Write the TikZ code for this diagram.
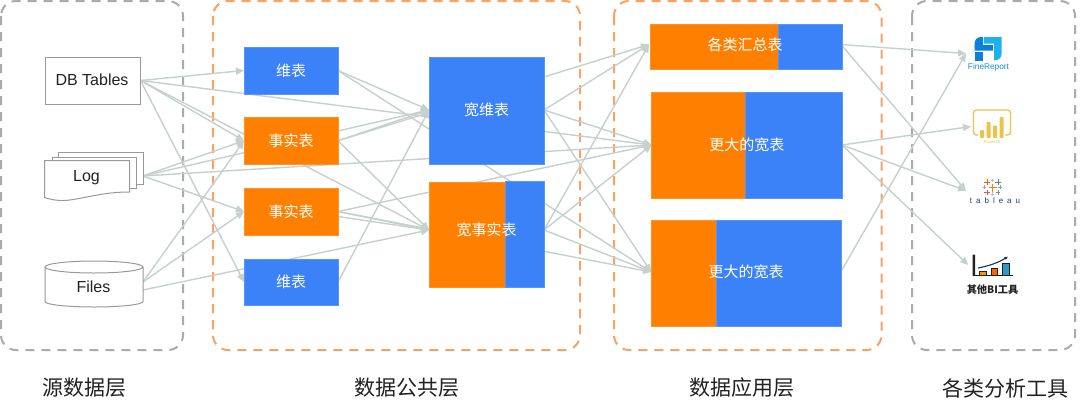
\documentclass[tikz,border=0pt]{standalone}
\usepackage{fontspec}
\setmainfont{Liberation Sans}
\newfontfamily\cjk{Noto Sans CJK SC}
\newfontfamily\tabfont[LetterSpace=50]{Liberation Sans}
\usetikzlibrary{arrows.meta,backgrounds}
\definecolor{bluefill}{HTML}{3B82F8}
\definecolor{orangefill}{HTML}{FF8000}
\definecolor{linkgrey}{HTML}{C6D0CC}
\definecolor{groupgrey}{HTML}{ABABAB}
\definecolor{grouporange}{HTML}{F9A261}
\definecolor{srcgrey}{HTML}{999999}
\definecolor{ink}{HTML}{222222}
\definecolor{frdark}{HTML}{0B80DA}
\definecolor{frlight}{HTML}{1FB1EC}
\definecolor{pbiyellow}{HTML}{E9C449}
\definecolor{tabblue}{HTML}{1F3F77}
\tikzset{
  link/.style={draw=linkgrey,line width=1.4pt},
  linkto/.style={link,-{Triangle[length=8pt,width=7pt,fill=linkgrey]}},
  grouprect/.style={line width=2pt,dash pattern=on 9pt off 7pt,rounded corners=15pt},
  bx/.style={inner sep=0pt,outer sep=0pt,draw=#1!85!white,line width=.4pt,fill=#1},
  tbl/.style={bx=#1,minimum width=94pt,minimum height=46.5pt,text=white,font=\cjk\fontsize{15}{15}\selectfont},
  boxlabel/.style={inner sep=0pt,outer sep=0pt,text=white,font=\cjk\fontsize{15}{15}\selectfont},
  source/.style={draw=srcgrey,line width=1pt,fill=white},
  srctext/.style={inner sep=0pt,text=ink,font=\fontsize{16}{16}\selectfont},
  layer/.style={inner sep=0pt,text=ink,font=\cjk\fontsize{21}{21}\selectfont},
}
\begin{document}
\begin{tikzpicture}[x=1pt,y=-1pt]
\useasboundingbox (0,0) rectangle (1080,408);

% source shapes
\node[source,inner sep=0pt,minimum width=95pt,minimum height=47pt] (dbt) at (92.5,80.5) {};
\node[srctext] (dbtl) at (92,79.5) {DB Tables};
\node[source,inner sep=0pt,minimum width=85pt,minimum height=32pt] (logb) at (100.5,168) {};
\node[source,inner sep=0pt,minimum width=84pt,minimum height=31pt] (logm) at (94,172.5) {};
\filldraw[source] (44.5,160.5) -- (129.5,160.5) -- (129.5,192)
  .. controls (105,192) and (90,197) .. (70,200) .. controls (60,201.5) and (50,199.5) .. (44.5,197.5) -- cycle;
\node[srctext] (logl) at (86.5,178) {Log};
\coordinate (logport) at (143,176);
\filldraw[source] (45,267) arc[start angle=180,end angle=360,x radius=49,y radius=6]
  -- (143,301.5) arc[start angle=0,end angle=180,x radius=49,y radius=5.5] -- cycle;
\draw[source,fill=none] (45,267) arc[start angle=180,end angle=0,x radius=49,y radius=6];
\node[srctext] (filesl) at (93.5,287) {Files};
\coordinate (files1) at (143,282);
\coordinate (files2) at (143,290);

% tables
\node[tbl=bluefill] (dim1) at (291,70.5) {维表};
\node[tbl=orangefill] (fact1) at (291,140.75) {事实表};
\node[tbl=orangefill] (fact2) at (291,211.5) {事实表};
\node[tbl=bluefill] (dim2) at (291,282) {维表};
\coordinate (fact2low) at (338,216.5);

\node[bx=bluefill,minimum width=115pt,minimum height=107pt] (wdimb) at (486.5,110.5) {};
\node[boxlabel,minimum width=115pt] (wdim) at (486.5,110) {宽维表};

\node[bx=orangefill,minimum width=76pt,minimum height=105pt] (wfo) at (467,234.5) {};
\node[bx=bluefill,minimum width=39pt,minimum height=106pt] (wfb) at (524.5,234) {};
\node[boxlabel,minimum width=115pt] (wfact) at (486.5,230) {宽事实表};

\node[bx=orangefill,minimum width=128pt,minimum height=45pt] (sumo) at (714,46.5) {};
\node[bx=bluefill,minimum width=64pt,minimum height=45pt] (sumb) at (810,46.5) {};
\node[boxlabel,minimum width=192pt] (sum) at (745,44.5) {各类汇总表};

\node[bx=orangefill,minimum width=93.5pt,minimum height=106pt] (b1o) at (698.25,145) {};
\node[bx=bluefill,minimum width=97pt,minimum height=106pt] (b1b) at (793.5,145) {};
\node[boxlabel,minimum width=190.5pt] (big1) at (746.75,145) {更大的宽表};

\node[bx=orangefill,minimum width=64.5pt,minimum height=106pt] (b3o) at (683.75,273) {};
\node[bx=bluefill,minimum width=125pt,minimum height=106pt] (b3b) at (778.5,273) {};
\node[boxlabel,minimum width=189.5pt] (big3) at (746,272) {更大的宽表};

% FineReport icon
\fill[frdark] (974.5,50.5) -- (974.5,44) .. controls (974.5,40) and (977,37) .. (981,37) -- (983.2,37) -- (983.2,45) -- (993,45) -- (993,50.5) -- cycle;
\fill[frdark] (974.5,51.8) -- (983.2,51.8) -- (983.2,60.5) -- (974.5,60.5) -- cycle;
\fill[frlight] (984.2,37) -- (1001.7,37) -- (1001.7,53) .. controls (1001.7,57.5) and (999,60.5) .. (994,60.5) -- (994,43.7) -- (984.2,43.7) -- cycle;
\node[inner sep=0pt,text=frdark!70!frlight,font=\fontsize{8.3}{8.3}\selectfont] (frtext) at (988.5,67) {FineReport};
\coordinate (frep) at (966,53.5);

% Power BI icon
\draw[pbiyellow,line width=1.3pt,rounded corners=3pt] (978,135) -- (973.5,135) -- (973.5,110) -- (1010.5,110) -- (1010.5,135) -- (1005,135);
\foreach \bx/\by in {980/130,986.7/122,993/125.5,999.7/117}
  \fill[pbiyellow,rounded corners=1pt] (\bx,\by) rectangle (\bx+4,138);
\node[inner sep=0pt,text=pbiyellow,font=\fontsize{4}{4}\selectfont] (pbitext) at (992,142) {Power BI};
\coordinate (pbi) at (971,126.5);

% Tableau icon
\foreach \cx/\cy/\cs/\cc in {992.5/187.5/4/orange,987/182/2.6/orange!70!red,998/182/2.6/tabblue!70,1000/187/1.8/teal!60,984.5/187/1.8/blue!40,987/192.5/2.6/red!70,998/192.5/2.2/tabblue!60,992.5/180.5/1.8/gray!50,992.5/194/1.8/gray!50}
  \draw[\cc,line width=.8pt] (\cx-\cs,\cy) -- (\cx+\cs,\cy) (\cx,\cy-\cs) -- (\cx,\cy+\cs);
\node[inner sep=0pt,text=tabblue,font=\tabfont\fontsize{8}{8}\selectfont] (tabtext) at (995,200.5) {tableau};
\coordinate (tab) at (966,190.7);

% other BI icon
\fill[ink,rounded corners=.6pt] (972.5,254.5) rectangle (975.2,276);
\fill[ink] (973,275) rectangle (1013,276.3);
\filldraw[draw=ink,line width=.4pt,fill=orange!85!yellow] (979.5,271.5) rectangle (986,275);
\filldraw[draw=ink,line width=.4pt,fill=orange!75!red] (991,268) rectangle (997,275);
\filldraw[draw=ink,line width=.4pt,fill=cyan!55!teal] (1002.5,263) rectangle (1009,275);
\draw[tabblue!80!black,line width=1.1pt,-{Latex[length=3.5pt,width=3.5pt]}] (978,268) .. controls (988,266) and (998,263) .. (1008,256.5);
\node[inner sep=0pt,text=ink,font=\cjk\fontsize{10.2}{10.2}\selectfont\bfseries] (bitext) at (992.5,290) {其他BI工具};
\coordinate (bi) at (968.3,265);

% bottom captions
\node[layer] (cap1) at (84.5,388) {源数据层};
\node[layer] (cap2) at (406.5,388) {数据公共层};
\node[layer] (cap3) at (742,388) {数据应用层};
\node[layer] (cap4) at (1005,388) {各类分析工具};

\begin{scope}[on background layer]
  \fill[white] (0,0) rectangle (1080,408);
  \draw[grouprect,draw=groupgrey] (1,1) rectangle (183,350);
  \draw[grouprect,draw=grouporange] (213,1) rectangle (580,350);
  \draw[grouprect,draw=grouporange] (614,1) rectangle (881.5,350);
  \draw[grouprect,draw=groupgrey] (912,1) rectangle (1075,350);
  \foreach \a/\b in {
    dbt.east/dim1.west, dbt.east/fact1.west, dbt.east/big1.west, dbt.east/wfact.west, dbt.east/dim2.west,
    logport/fact1.west, logport/wdim.west, logport/big1.west, logport/fact2.west,
    files1/fact1.west, files1/fact2.west, files2/wfact.west,
    dim1.east/wdim.west, dim1.east/big3.west,
    fact1.east/wdim.west, fact1.east/sum.west, fact1.east/wfact.west,
    fact2.east/wfact.west, fact2.east/big1.west, fact2.east/big3.west, fact2low/wfact.west,
    dim2.east/wdim.west,
    wdim.east/sum.west, wdim.east/big1.west, wdim.east/big3.west,
    wfact.east/sum.west, wfact.east/big1.west, wfact.east/big3.west,
    sum.east/frep, sum.east/tab,
    big1.east/pbi, big1.east/tab, big1.east/bi,
    big3.east/frep}
    \draw[linkto] (\a) -- (\b);
\end{scope}
\end{tikzpicture}
\end{document}
